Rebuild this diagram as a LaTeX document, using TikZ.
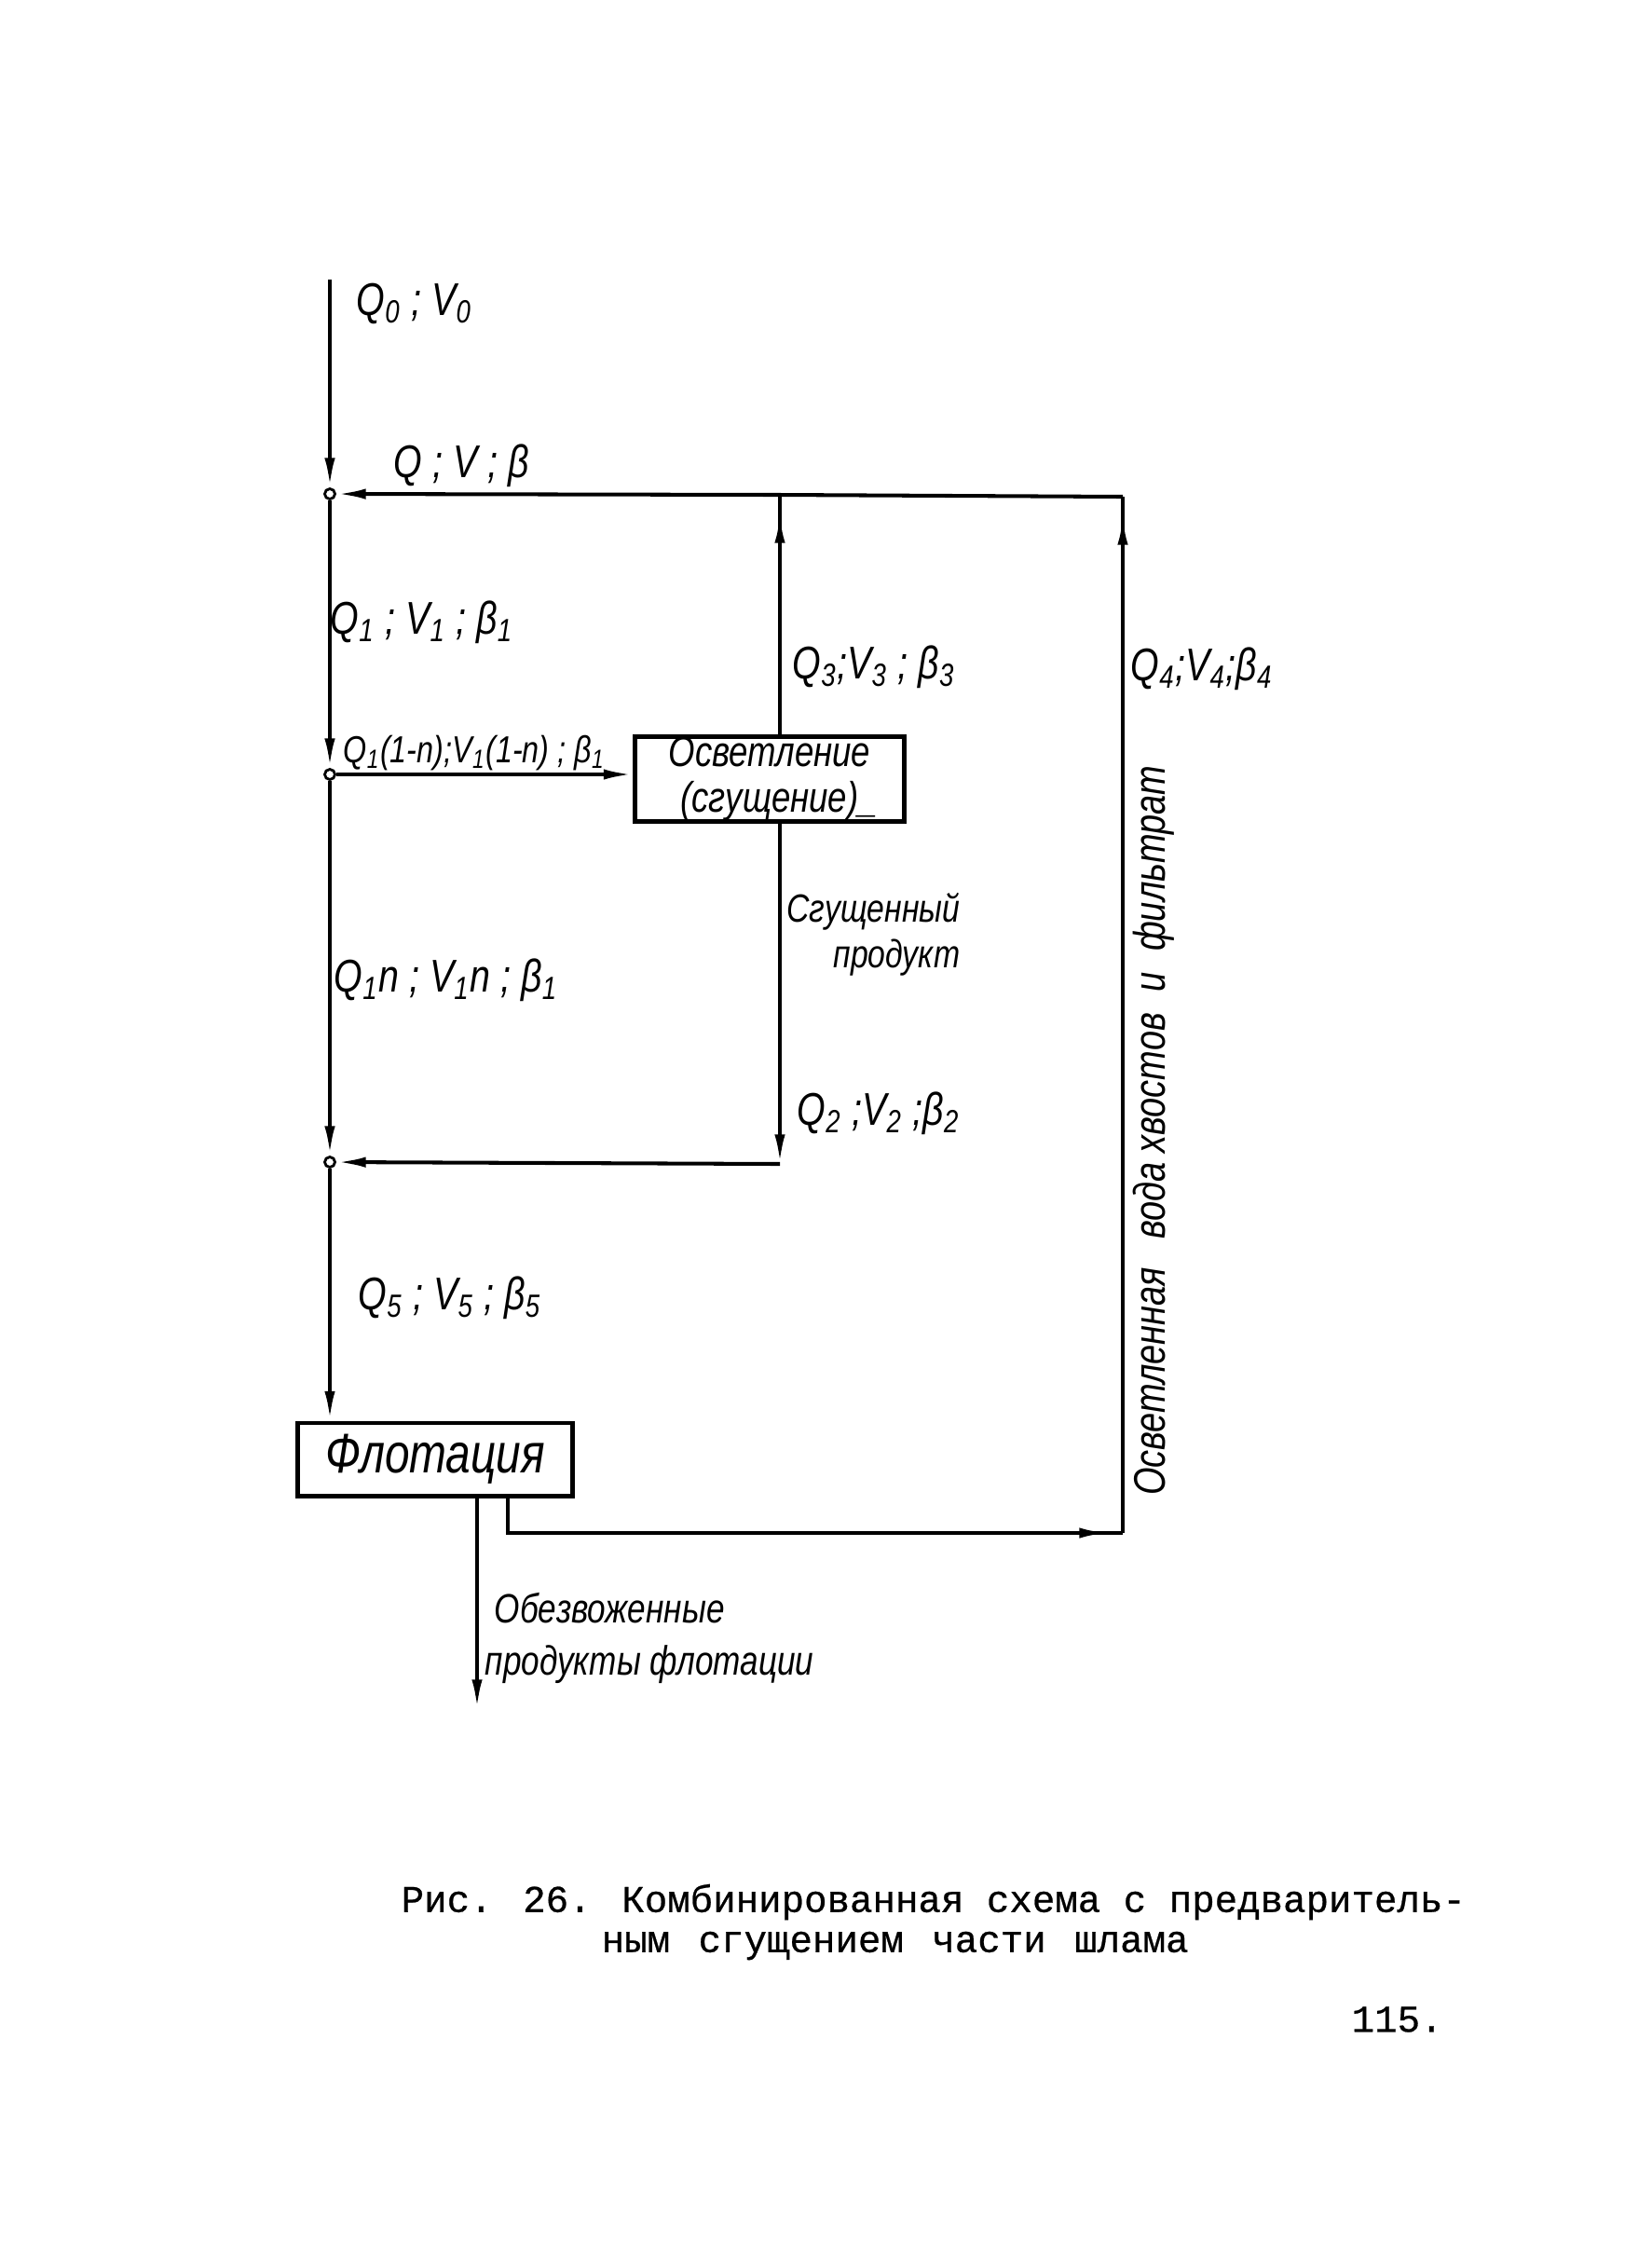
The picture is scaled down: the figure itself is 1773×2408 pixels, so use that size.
\documentclass[tikz,border=0pt]{standalone}
\usepackage{fontspec}
\setmainfont{Liberation Sans}
\newfontfamily\hand[FakeStretch=0.8]{Liberation Sans}
\newfontfamily\capfont[FakeBold=0.6]{Liberation Mono}
\usetikzlibrary{arrows.meta,decorations.markings}
\newcommand{\sbx}[1]{\textsubscript{#1}}
\tikzset{
  >={Latex[length=9pt,width=3.2pt]},
  flow/.style={line width=1.15pt},
  midarrow/.style={postaction={decorate},decoration={markings,mark=at position #1 with {\arrow{>}}}},
  junc/.style={circle,draw,fill=white,line width=0.8pt,inner sep=0pt,minimum size=1.1mm},
  procbox/.style={draw,line width=1.4pt,inner sep=0pt,font=\hand\itshape\fontsize{13}{14}\selectfont,align=center},
  lbl/.style={font=\hand\itshape\fontsize{14}{16}\selectfont,inner sep=0pt,anchor=west},
  caption/.style={font=\capfont\fontsize{11.6}{13}\selectfont,inner sep=0pt,anchor=west}
}
\begin{document}
\begin{tikzpicture}[x=0.01cm,y=-0.01cm]
\useasboundingbox (0,0) rectangle (1773,2408);
\fill[white] (0,0) rectangle (1773,2408);
% junctions and points
\node[junc] (j1) at (354,530) {};
\node[junc] (j2) at (354,831) {};
\node[junc] (j3) at (354,1247) {};
\coordinate (top) at (354,300);
\coordinate (c1) at (837,531);
\coordinate (c2) at (1205,533);
\coordinate (c3) at (1205,1645);
\coordinate (c4) at (545,1645);
\coordinate (c5) at (837,1249);
\coordinate (out) at (512,1834);
% process boxes
\node[procbox,minimum width=28.8mm,minimum height=8.2mm] (osv) at (826,836) {Осветление\\\hspace{2mm}(сгущение)\_};
\node[procbox,minimum width=29.5mm,minimum height=7.8mm,font=\hand\itshape\fontsize{17}{18}\selectfont] (flot) at (467,1566) {Флотация};
% connectors
\draw[flow,->] (top) -- (j1);
\draw[flow,->] (c2) -- (c1) -- (j1);
\draw[flow,midarrow=-2mm] (osv.north -| c1) -- (c1);
\draw[flow,midarrow=-2mm] (c3) -- (c2);
\draw[flow,->] (j1) -- (j2);
\draw[flow,->] (j2) -- (j2 -| osv.west);
\draw[flow,->] (osv.south -| c1) -- (c5);
\draw[flow,->] (c5) -- (j3);
\draw[flow,->] (j2) -- (j3);
\draw[flow,->] (j3) -- (j3 |- flot.north);
\draw[flow,midarrow=-1.5mm] (flot.south -| c4) -- (c4) -- (c3);
\draw[flow,->] (flot.south -| out) -- (out);
% labels
\node[lbl] (l0) at (382,326) {Q\sbx{0} ; V\sbx{0}};
\node[lbl] (lq) at (422,500) {Q ; V ; β};
\node[lbl] (l1) at (354,668) {Q\sbx{1} ; V\sbx{1} ; β\sbx{1}};
\node[lbl] (l3) at (850,716) {Q\sbx{3};V\sbx{3} ; β\sbx{3}};
\node[lbl] (l4) at (1213,718) {Q\sbx{4};V\sbx{4};β\sbx{4}};
\node[lbl,font=\hand\itshape\fontsize{11.5}{13}\selectfont] (l1a) at (368,808) {Q\sbx{1}(1-n);V\sbx{1}(1-n) ; β\sbx{1}};
\node[lbl,anchor=east,align=right,font=\hand\itshape\fontsize{12}{14}\selectfont] (lsg) at (1031,1003) {Сгущенный\\продукт};
\node[lbl] (l1n) at (358,1052) {Q\sbx{1}n ; V\sbx{1}n ; β\sbx{1}};
\node[lbl] (l2) at (855,1195) {Q\sbx{2} ;V\sbx{2} ;β\sbx{2}};
\node[lbl] (l5) at (384,1393) {Q\sbx{5} ; V\sbx{5} ; β\sbx{5}};
\node[lbl,align=left,font=\hand\itshape\fontsize{12.5}{16}\selectfont] (lob) at (520,1758) {\hspace{1mm}Обезвоженные\\продукты флотации};
\node[lbl,anchor=center,rotate=90,font=\hand\itshape\fontsize{13.5}{16}\selectfont] (lrot) at (1238,1213) {Осветленная\hspace{3mm}вода хвостов\hspace{1.2mm} и\hspace{1.2mm} фильтрат};
% caption
\node[caption] (cap1) at (430,2041) {Рис. 26. Комбинированная схема с предваритель-};
\node[caption] (cap2) at (645,2088) {ным\hspace{0.6mm} сгущением\hspace{0.6mm} части\hspace{0.6mm} шлама};
\node[caption] (pg) at (1450,2167) {115.};
\end{tikzpicture}
\end{document}
